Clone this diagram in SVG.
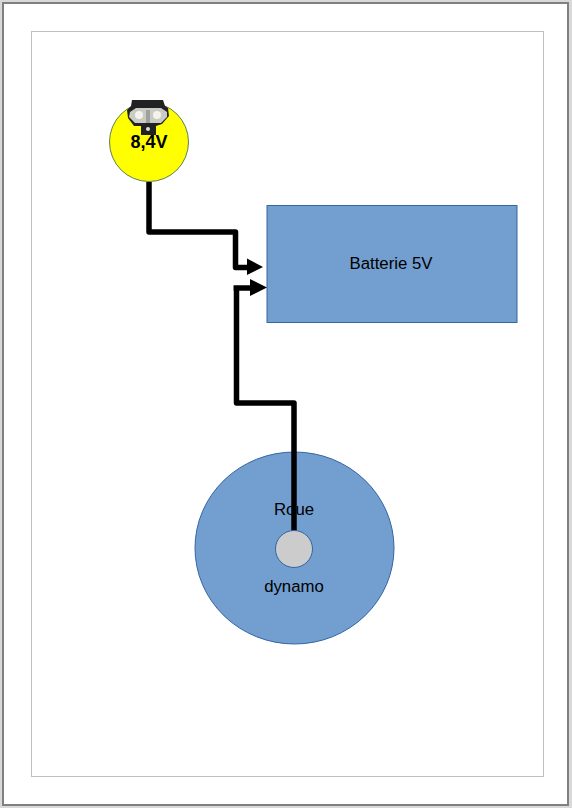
<svg xmlns="http://www.w3.org/2000/svg" width="572" height="808" viewBox="0 0 572 808">
<style>
.t{font-family:"Liberation Sans",Arial,sans-serif;font-size:16.8px;fill:#000;text-anchor:middle}
.b{fill:#729fcf;stroke:#3465a4;stroke-width:1}
.w{fill:none;stroke:#000;stroke-width:5.5;stroke-linejoin:round}
</style>
<rect width="572" height="808" fill="#d9d9d9"/>
<rect x="3" y="3" width="565" height="802" fill="#fff" stroke="#808080" stroke-width="2"/>
<rect x="31.500" y="31.500" width="512" height="745" fill="#fff" stroke="#c0c0c0" stroke-width="1"/>
<g id="roue"><ellipse class="b" cx="294.500" cy="548" rx="99.500" ry="96"/><text class="t" x="294" y="515">Roue</text></g>
<g id="batterie"><rect class="b" x="267" y="205.500" width="250" height="117"/><text class="t" x="391" y="269">Batterie 5V</text></g>
<g id="lampe">
<circle cx="149" cy="142" r="39.500" fill="#ffff00" stroke="#5f7f4f" stroke-width="1"/>
<path d="M132 100H163L165 106L168 108L169 116L162 124L156 126V135H141V126L134 126L128 118L127 110L131 106Z" fill="#222"/>
<path d="M130 112L136 108H161L167 112L167 117L161 123H135L129 117Z" fill="#c9cbc4"/>
<circle cx="139" cy="115" r="4" fill="#f4f4ec"/><circle cx="157" cy="115" r="4" fill="#f4f4ec"/>
<path d="M147 110V123M149 110V123" stroke="#777" stroke-width="1"/>
<circle cx="148" cy="129" r="2" fill="#ddd"/>
<text x="149" y="148" font-family="Liberation Sans,Arial,sans-serif" font-size="18" font-weight="bold" text-anchor="middle">8,4V</text>
</g>
<g id="connecteurs">
<path class="w" d="M149 182V232H235.500V267.500H248"/>
<path d="M247 258.500L263 267L247 275Z"/>
<path class="w" d="M294 531V403H236.500V288H233.500M236.500 288H251"/>
<path d="M250 279L267 287.500L250 296Z"/>
</g>
<g id="dynamo"><circle cx="294" cy="549" r="18.500" fill="#cccccc" stroke="#3465a4" stroke-width="1"/><text class="t" x="294" y="592">dynamo</text></g>
</svg>
